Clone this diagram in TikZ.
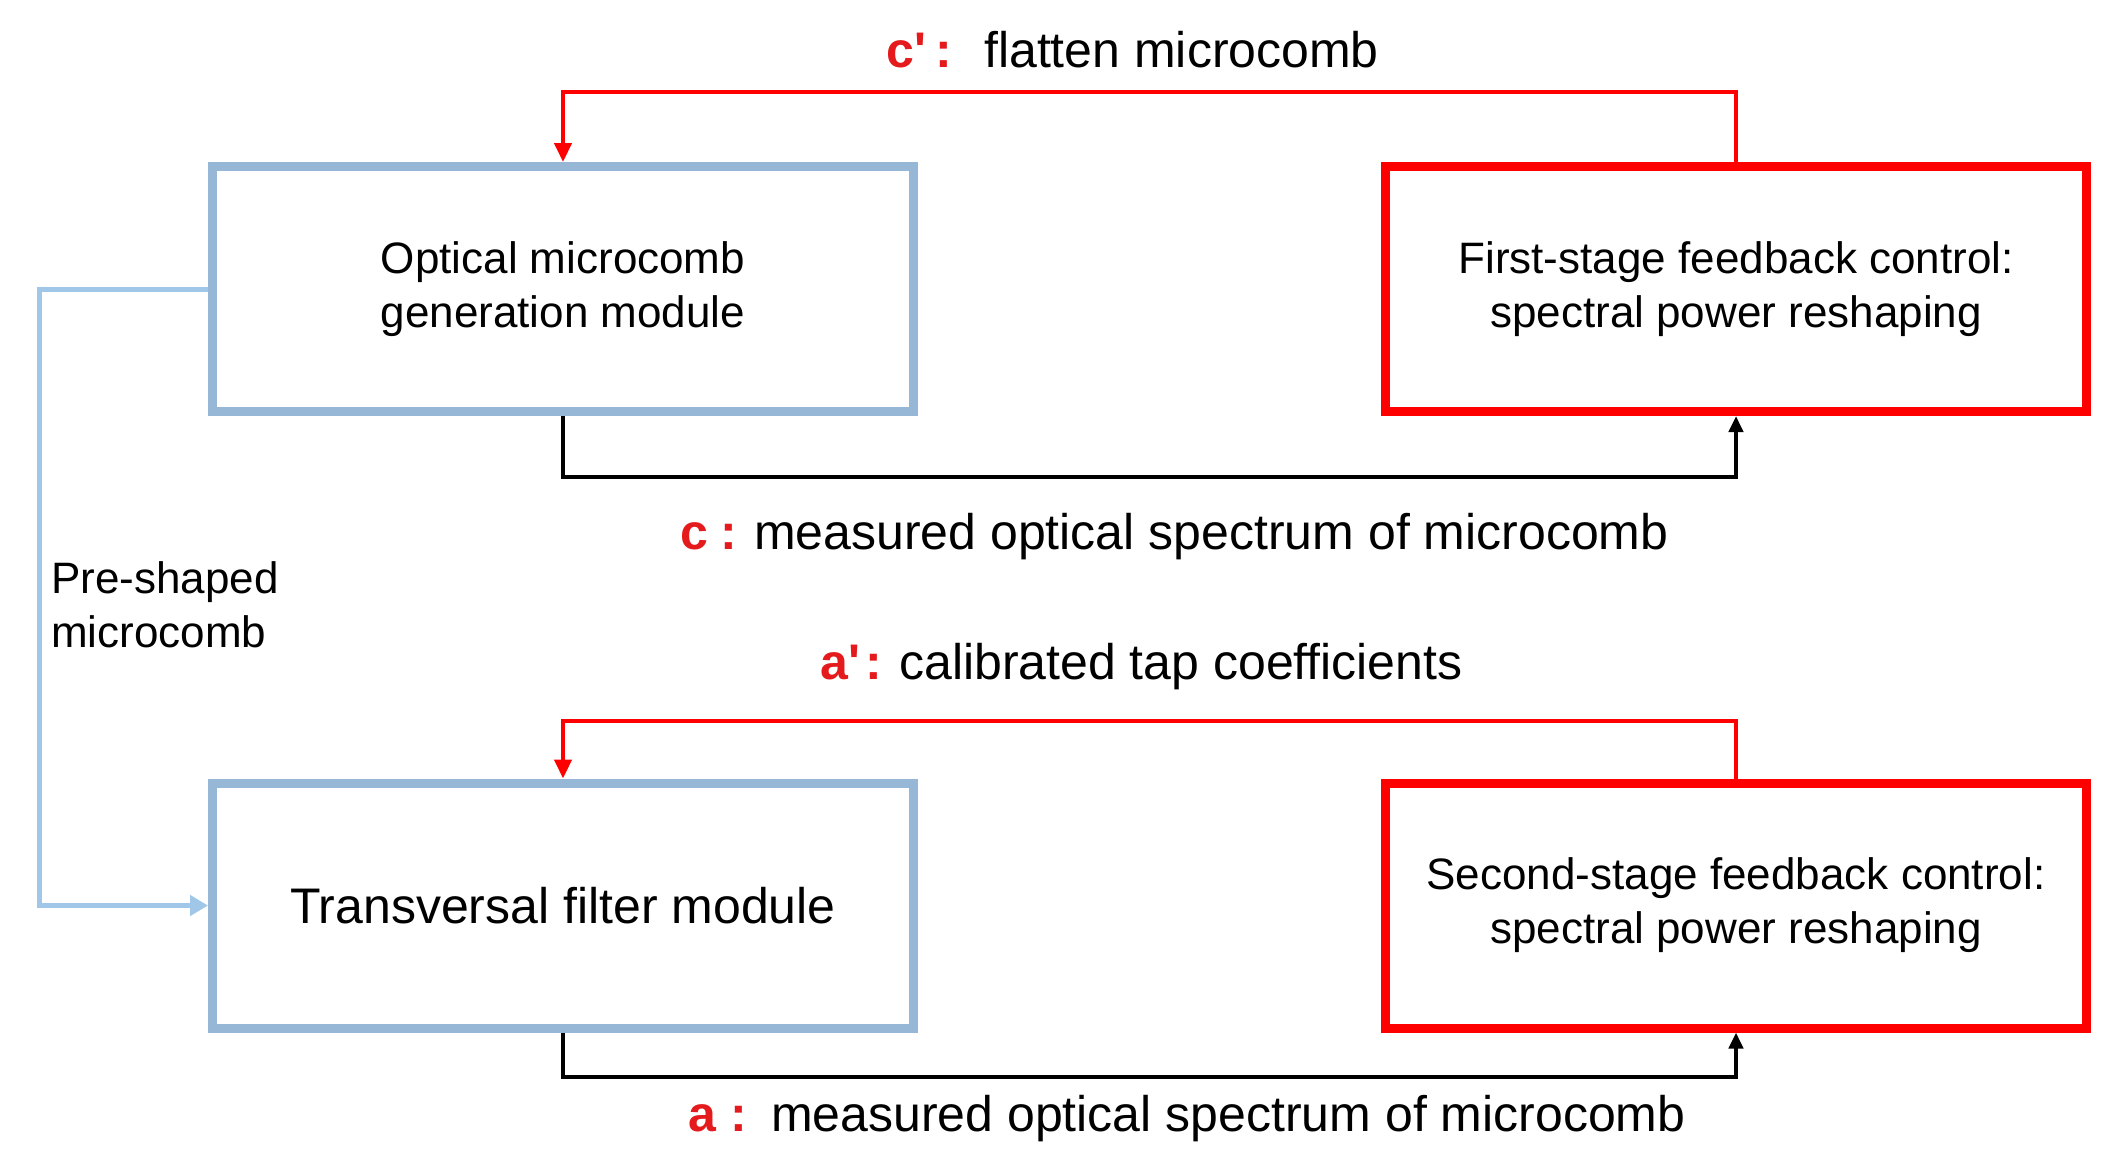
\documentclass[tikz,border=0pt]{standalone}
\usepackage{fontspec}
\newfontfamily\lsans{Liberation Sans}
\usetikzlibrary{arrows.meta}
\definecolor{boxblue}{RGB}{150,184,214}
\definecolor{lineblue}{RGB}{160,198,232}
\definecolor{lblred}{RGB}{228,26,28}
\begin{document}
\begin{tikzpicture}[x=1pt,y=-1pt,
  every node/.style={font=\lsans\fontsize{44}{54}\selectfont},
  bluebox/.style={draw=boxblue,line width=9pt,minimum width=701pt,minimum height=245pt,align=center,inner sep=0pt},
  redbox/.style={draw=red,line width=9pt,minimum width=701pt,minimum height=245pt,align=center,inner sep=0pt},
  redline/.style={draw=red,line width=4.5pt,-{Triangle[length=19pt,width=17pt]}},
  blackline/.style={draw=black,line width=4.5pt,-{Triangle[length=16pt,width=14pt]}},
  blueline/.style={draw=lineblue,line width=5pt,-{Triangle[length=18pt,width=20pt]}},
  bigfont/.style={font=\lsans\fontsize{50}{60}\selectfont},
  lbl/.style={anchor=base west,inner sep=0pt,bigfont},
  redlbl/.style={anchor=base west,inner sep=0pt,text=lblred,font=\lsans\bfseries\fontsize{50}{60}\selectfont}]
\useasboundingbox (0,0) rectangle (2117,1170);
\fill[white] (0,0) rectangle (2117,1170);

\node[bluebox] (gen) at (563,289) {Optical microcomb\\generation module};
\node[redbox] (fb1) at (1736,289) {First-stage feedback control:\\spectral power reshaping};
\node[bluebox,bigfont] (tf) at (563,905.5) {Transversal filter module};
\node[redbox] (fb2) at (1736,905.5) {Second-stage feedback control:\\spectral power reshaping};

\coordinate (r1) at (1736,92);
\coordinate (r2) at (563,92);
\coordinate (b1) at (563,477);
\coordinate (b2) at (1736,477);
\coordinate (r3) at (1736,721);
\coordinate (r4) at (563,721);
\coordinate (b3) at (563,1077);
\coordinate (b4) at (1736,1077);
\coordinate (l1) at (39,289);
\coordinate (l2) at (39,905.5);

\draw[redline] (fb1.north) -- (r1) -- (r2) -- (gen.north);
\draw[blackline] (gen.south) -- (b1) -- (b2) -- (fb1.south);
\draw[redline] (fb2.north) -- (r3) -- (r4) -- (tf.north);
\draw[blackline] (tf.south) -- (b3) -- (b4) -- (fb2.south);
\draw[blueline] (gen.west) -- (l1) -- (l2) -- (tf.west);

\node[redlbl] (cpl) at (886,67) {c'\hspace{10pt}:};
\node[lbl] (cpt) at (984,67) {flatten microcomb};
\node[redlbl] (cl) at (680,549) {c\hspace{12pt}:};
\node[lbl] (ct) at (754,549) {measured optical spectrum of microcomb};
\node[redlbl] (apl) at (820,679) {a'\hspace{6pt}:};
\node[lbl] (apt) at (899,679) {calibrated tap coefficients};
\node[redlbl] (al) at (688,1131) {a\hspace{14pt}:};
\node[lbl] (at) at (771,1131) {measured optical spectrum of microcomb};
\node[align=left,anchor=north west,inner sep=0pt] (pre) at (51,561) {Pre-shaped\\microcomb};
\end{tikzpicture}
\end{document}
